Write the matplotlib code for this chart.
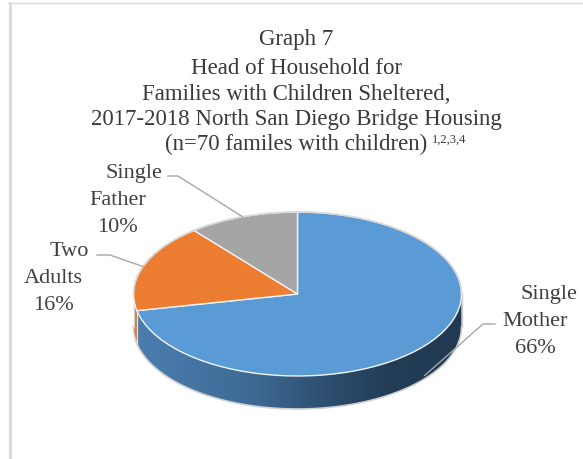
import numpy as np
import matplotlib
matplotlib.use("Agg")
import matplotlib.pyplot as plt
from matplotlib.patches import Polygon
from matplotlib.lines import Line2D
from matplotlib.colors import LinearSegmentedColormap

# ---- data ----
categories = ["Single Mother", "Two Adults", "Single Father"]
values = [66, 16, 10]
label_lines = [["Single", "Mother"], ["Two", "Adults"], ["Single", "Father"]]
colors = ["#5B9BD5", "#ED7D31", "#A5A5A5"]
title_lines = ["Graph 7",
               "Head of Household for",
               "Families with Children Sheltered,",
               "2017-2018 North San Diego Bridge Housing",
               "(n=70 familes with children)"]
footnote_marks = "1,2,3,4"

# ---- layout (pixels, origin top-left) ----
W, H = 583, 460
cx, cy = 297.5, 295.0      # centre of the pie's top face
rx, ry = 164.0, 82.0       # radii of the tilted ellipse
depth_px = 33.0            # thickness of the disc
depth = depth_px / ry

SERIF = ["Liberation Serif", "DejaVu Serif"]
TXT = "#404040"

fig = plt.figure(figsize=(W / 100, H / 100), dpi=100)
ax = fig.add_axes([0, 0, 1, 1])


def to_data(px, py):
    return (px - cx) / rx, (cy - py) / ry


def to_fig(px, py):
    return px / W, 1 - py / H


# top face of the pie
wedges, _ = ax.pie(values, colors=colors, startangle=90, counterclock=False,
                   radius=1, wedgeprops=dict(edgecolor="#F2F2F2", linewidth=1.0))
for w in wedges:
    w.set_zorder(3)

# side band colours
side_maps = [
    LinearSegmentedColormap.from_list("blue_side", [
        (0.0, "#4B7EB0"), (0.35, "#3E6B96"), (0.62, "#2B4B6A"),
        (0.78, "#233D56"), (1.0, "#213A52")]),
    LinearSegmentedColormap.from_list("orange_side", ["#D8712B", "#D8712B"]),
    LinearSegmentedColormap.from_list("grey_side", ["#8C8C8C", "#8C8C8C"]),
]

grad = np.linspace(0, 1, 256).reshape(1, -1)
for w, cmap in zip(wedges, side_maps):
    t1, t2 = w.theta1, w.theta2
    for k in (-1, 0, 1):
        lo, hi = max(t1, -180 + 360 * k), min(t2, 360 * k)
        if hi <= lo:
            continue
        ts = np.radians(np.linspace(lo, hi, 200))
        top = np.column_stack([np.cos(ts), np.sin(ts)])
        bot = np.column_stack([np.cos(ts), np.sin(ts) - depth])[::-1]
        pts = np.vstack([top, bot])
        patch = Polygon(pts, closed=True, facecolor="none", edgecolor="none",
                        transform=ax.transData)
        ax.add_patch(patch)
        im = ax.imshow(grad, cmap=cmap, extent=(-1, 1, -1 - depth, 1),
                       aspect="auto", interpolation="bilinear", zorder=1)
        im.set_clip_path(patch)
        # faint seam at each slice boundary on the side
        for tb in (lo, hi):
            if abs(np.sin(np.radians(tb))) > 1e-6:
                xb, yb = np.cos(np.radians(tb)), np.sin(np.radians(tb))
                ax.plot([xb, xb], [yb, yb - depth], color="#E6E6E6",
                        lw=0.8, zorder=2)

# outer outline of the disc
ts = np.radians(np.linspace(0, 180, 200))
ax.plot(np.cos(ts), np.sin(ts), color="#D9D9D9", lw=1.2, zorder=4)
ts = np.radians(np.linspace(180, 360, 200))
ax.plot(np.cos(ts), np.sin(ts) - depth, color="#D0D0D0", lw=1.2, zorder=2)
ax.plot([-1, -1], [0, -depth], color="#D0D0D0", lw=1.0, zorder=2)
ax.plot([1, 1], [0, -depth], color="#D0D0D0", lw=1.0, zorder=2)

ax.set_aspect("auto")
ax.set_xlim(-cx / rx, (W - cx) / rx)
ax.set_ylim(-(H - cy) / ry, cy / ry)
ax.axis("off")

# ---- data labels with leader lines ----
# per slice: x-centre of first line, x-centre of other lines, first baseline,
# leader start, leader elbow, how far down the side the leader ends
label_layout = [
    dict(x1=549, x2=535, y0=299.3, start=(495, 325), elbow=(483, 325), drop=0.9),
    dict(x1=69, x2=53.5, y0=256.0, start=(97, 256), elbow=(110, 256), drop=0.0),
    dict(x1=134, x2=117.5, y0=178.3, start=(168, 177), elbow=(178, 177), drop=0.0),
]
line_gap = 26.8
for w, v, lines, lay in zip(wedges, values, label_lines, label_layout):
    texts = lines + [f"{v}%"]
    for i, s in enumerate(texts):
        xpx = lay["x1"] if i == 0 else lay["x2"]
        fx, fy = to_fig(xpx, lay["y0"] + i * line_gap)
        fig.text(fx, fy, s, ha="center", va="baseline", fontsize=16,
                 family=SERIF, color=TXT)
    mid = np.radians(0.5 * (w.theta1 + w.theta2))
    end = (np.cos(mid), np.sin(mid) - lay["drop"] * depth)
    p0 = to_data(*lay["start"])
    p1 = to_data(*lay["elbow"])
    ax.plot([p0[0], p1[0], end[0]], [p0[1], p1[1], end[1]],
            color="#A6A6A6", lw=1.0, zorder=5)

# ---- title ----
baselines = [45.0, 74.5, 99.8, 125.2, 150.5]
for s, yb in zip(title_lines, baselines):
    fx, fy = to_fig(cx - 1, yb)
    t = fig.text(fx, fy, s, ha="center", va="baseline", fontsize=16.5,
                 family=SERIF, color="#3A3A3A")
    last = t

# footnote markers after the last title line
fig.canvas.draw()
bb = last.get_window_extent()
fig.text((bb.x1 + 4) / W, (H - 143.0) / H, footnote_marks, ha="left",
         va="baseline", fontsize=9, family=SERIF, color="#3A3A3A")

# ---- chart area border ----
fig.add_artist(Line2D([8 / W, 1], [1 - 3.5 / H, 1 - 3.5 / H],
                      transform=fig.transFigure, color="#D9D9D9", lw=1.0))
fig.add_artist(Line2D([9.5 / W, 9.5 / W], [1 - 3.5 / H, 0],
                      transform=fig.transFigure, color="#D9D9D9", lw=2.0))

fig.savefig("out.png", dpi=100, facecolor="white")
